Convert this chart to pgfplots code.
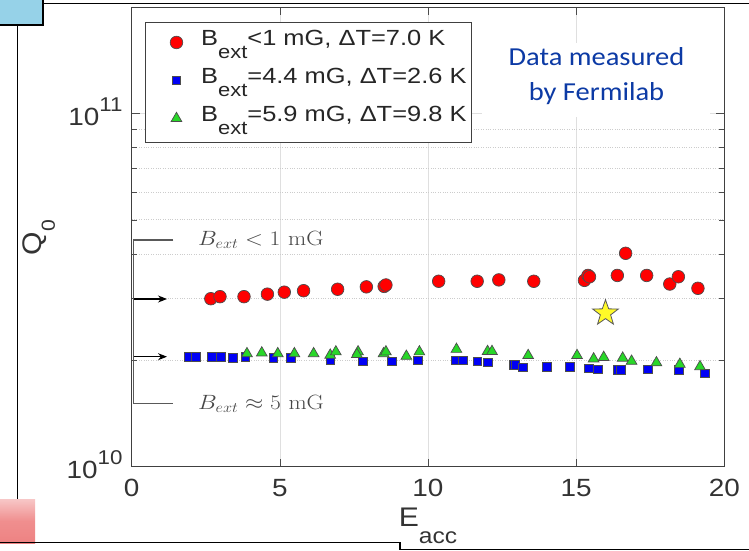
\documentclass[border=0pt]{standalone}
\usepackage{pgfplots}
\pgfplotsset{compat=1.18}
\usepackage[no-math]{fontspec}
\usepackage{graphicx}
\usetikzlibrary{arrows.meta}
\setmainfont{Liberation Sans}[FakeStretch=1.12]
\newfontfamily\legfont{Liberation Sans}[FakeStretch=1.16]
\newfontfamily\calibri{Carlito}[FakeStretch=1.1]
\definecolor{mred}{RGB}{255,0,0}
\definecolor{mblue}{RGB}{0,0,245}
\definecolor{mgreen}{RGB}{40,215,40}
\definecolor{mstar}{RGB}{255,250,40}
\definecolor{fermi}{RGB}{12,58,165}
\definecolor{slideblue}{RGB}{150,210,232}
\definecolor{slidepink}{RGB}{238,130,130}
\pgfdeclareplotmark{fstar}{%
  \pgfpathmoveto{\pgfqpointpolar{90}{\pgfplotmarksize}}%
  \pgfpathlineto{\pgfqpointpolar{126}{0.4\pgfplotmarksize}}%
  \pgfpathlineto{\pgfqpointpolar{162}{\pgfplotmarksize}}%
  \pgfpathlineto{\pgfqpointpolar{198}{0.4\pgfplotmarksize}}%
  \pgfpathlineto{\pgfqpointpolar{234}{\pgfplotmarksize}}%
  \pgfpathlineto{\pgfqpointpolar{270}{0.4\pgfplotmarksize}}%
  \pgfpathlineto{\pgfqpointpolar{306}{\pgfplotmarksize}}%
  \pgfpathlineto{\pgfqpointpolar{342}{0.4\pgfplotmarksize}}%
  \pgfpathlineto{\pgfqpointpolar{18}{\pgfplotmarksize}}%
  \pgfpathlineto{\pgfqpointpolar{54}{0.4\pgfplotmarksize}}%
  \pgfpathclose\pgfusepathqfillstroke}
\newcommand{\lsub}[1]{\raisebox{-12.6bp}{\fontsize{19}{19}\selectfont #1}}
\newcommand{\tsup}[1]{\raisebox{14bp}{\fontsize{20}{20}\selectfont #1}}
\begin{document}
\begin{tikzpicture}
\useasboundingbox (0,0) rectangle (749bp,-551bp);
% slide decorations
\begin{scope}[x=1bp,y=-1bp]
  \draw[line width=1.5bp] (43,3.3) -- (749,3.3);
  \draw[line width=1.3bp] (17.3,25) -- (17.3,499);
  \fill[slideblue] (0,0) rectangle (43,25);
  \draw[line width=1.6bp] (-2,25) -- (43,25) -- (43,-2);
  \shade[top color=slidepink!45, bottom color=slidepink, middle color=slidepink!90] (0,499) rectangle (35,543);
  \draw[line width=1.5bp] (0,542.7) -- (400,542.7) -- (400,549.3) -- (749,549.3);
\end{scope}
\begin{axis}[
  at={(131.7bp,-466.7bp)}, anchor=south west,
  scale only axis, width=592.6bp, height=459.4bp,
  xmin=0, xmax=20, ymode=log, ymin=1e10, ymax=2e11,
  xtick={0,5,10,15,20},
  ytick={1e10,1e11},
  yticklabels={10\tsup{10},10\tsup{11}},
  minor ytick={2e10,3e10,4e10,5e10,6e10,7e10,8e10,9e10,2e11},
  /pgf/number format/assume math mode=true,
  tick align=inside,
  major tick length=8bp, minor tick length=5bp,
  tick style={black!70, line width=0.6bp},
  axis line style={black!75, line width=0.8bp},
  xmajorgrids, ymajorgrids, yminorgrids,
  major grid style={gray!25, line width=0.6bp},
  minor grid style={gray!40, dotted, line width=0.7bp},
  xticklabel style={font=\fontsize{25}{25}\selectfont, text=black!80, inner sep=0pt, anchor=north, yshift=-12.5bp},
  yticklabel style={font=\fontsize{25}{25}\selectfont, text=black!80, inner sep=0pt, anchor=base east, xshift=-9bp, yshift=-12bp},
  xlabel={E\raisebox{-17bp}{\fontsize{22}{22}\selectfont acc}},
  ylabel={Q\raisebox{-13bp}{\fontsize{19}{19}\selectfont 0}},
  xlabel style={font=\fontsize{27}{27}\selectfont, text=black!80, at={(axis description cs:0.5,-0.1313)}, anchor=base},
  ylabel style={font=\fontsize{27}{27}\selectfont, text=black!80, at={(axis description cs:-0.1514,0.499)}, anchor=base},
  legend image code/.code={\path (0bp,0bp) (34bp,0bp); \draw[#1] plot coordinates {(25.7bp,1.8bp)};},
  legend style={at={(axis description cs:0.0224,0.9687)}, anchor=north west,
    draw=black!75, line width=0.8bp, fill=white,
    font=\legfont\fontsize{22}{22}\selectfont, text=black!85,
    inner xsep=5bp, inner ysep=8bp, row sep=9.5bp,
    nodes={inner sep=0pt, text height=15.5bp, text depth=13bp},
    /tikz/every odd column/.append style={column sep=16bp}},
  legend cell align=left,
]
\addplot[only marks, mark=*, mark size=6.3bp, mark options={fill=mred, draw=black!70, line width=0.7bp}] coordinates {
(2.67,2.99e10) (2.98,3.03e10) (3.79,3.03e10) (4.58,3.08e10) (5.15,3.12e10)
(5.80,3.15e10) (6.95,3.18e10) (7.92,3.23e10) (8.52,3.24e10) (8.58,3.27e10)
(10.36,3.35e10) (11.66,3.35e10) (12.39,3.38e10) (13.57,3.35e10) (15.28,3.37e10)
(15.40,3.48e10) (15.45,3.45e10) (16.39,3.48e10) (16.67,4.02e10) (17.38,3.48e10)
(18.16,3.29e10) (18.45,3.45e10) (19.11,3.20e10)};
\addlegendentry{B\lsub{ext}<1 mG, ΔT=7.0 K}
\addplot[only marks, mark=square*, mark size=4.3bp, mark options={fill=mblue, draw=black!70, line width=0.7bp}] coordinates {
(1.91,2.05e10) (2.16,2.05e10) (2.70,2.05e10) (3.01,2.05e10) (3.41,2.03e10)
(3.83,2.05e10) (4.78,2.03e10) (5.38,2.03e10) (6.70,2.01e10) (7.80,1.99e10)
(8.78,1.99e10) (9.65,2.00e10) (10.92,2.00e10) (11.17,2.00e10) (11.66,1.99e10)
(12.01,1.975e10) (12.90,1.945e10) (12.95,1.94e10) (13.20,1.91e10) (14.02,1.92e10)
(14.78,1.92e10) (15.43,1.90e10) (15.73,1.887e10) (16.39,1.88e10) (16.50,1.88e10)
(17.42,1.887e10) (18.47,1.88e10) (19.34,1.84e10)};
\addlegendentry{B\lsub{ext}=4.4 mG, ΔT=2.6 K}
\addplot[only marks, mark=triangle*, mark size=6.2bp, mark options={fill=mgreen, draw=black!70, line width=0.7bp}] coordinates {
(3.89,2.09e10) (4.39,2.10e10) (4.93,2.09e10) (5.49,2.09e10) (6.14,2.09e10)
(6.70,2.07e10) (6.89,2.115e10) (7.64,2.115e10) (7.60,2.08e10) (8.50,2.09e10) (8.58,2.115e10)
(9.27,2.055e10) (9.71,2.115e10) (10.96,2.15e10) (12.01,2.12e10) (12.16,2.12e10)
(13.38,2.065e10) (15.03,2.065e10) (15.59,2.02e10) (15.93,2.04e10) (16.57,2.03e10)
(16.87,1.99e10) (17.71,1.97e10) (18.50,1.95e10) (19.18,1.92e10)};
\addlegendentry{B\lsub{ext}=5.9 mG, ΔT=9.8 K}
\addplot[only marks, mark=fstar, mark size=13.5bp, mark options={fill=mstar, draw=black!65, line width=0.8bp}, forget plot] coordinates {(15.99,2.72e10)};
\end{axis}
% annotations
\begin{scope}[x=1bp,y=-1bp]
  \draw[black!65, line width=1.3bp] (173.3,240) -- (133.8,240) -- (133.8,403.3) -- (173.3,403.3);
  \draw[black, line width=1.1bp, -{Stealth[length=9bp,width=7bp]}] (133.8,299) -- (167,299);
  \draw[black, line width=1.1bp, -{Stealth[length=9bp,width=7bp]}] (133.8,356.7) -- (167,356.7);
  \node[anchor=base west, inner sep=0pt, text=black!72] at (198,245) {\scalebox{1.14}[1]{\fontsize{22}{22}\selectfont$B_{ext} < 1\ \mathrm{mG}$}};
  \node[anchor=base west, inner sep=0pt, text=black!72] at (198,409.3) {\scalebox{1.14}[1]{\fontsize{22}{22}\selectfont$B_{ext} \approx 5\ \mathrm{mG}$}};
  \fill[white] (482,43) rectangle (710,117);
  \node[anchor=base, inner sep=0pt, text=fermi, font=\calibri\fontsize{26}{30}\selectfont] at (596.5,65) {Data measured};
  \node[anchor=base, inner sep=0pt, text=fermi, font=\calibri\fontsize{26}{30}\selectfont] at (596.5,100) {by Fermilab};
\end{scope}
\end{tikzpicture}
\end{document}
